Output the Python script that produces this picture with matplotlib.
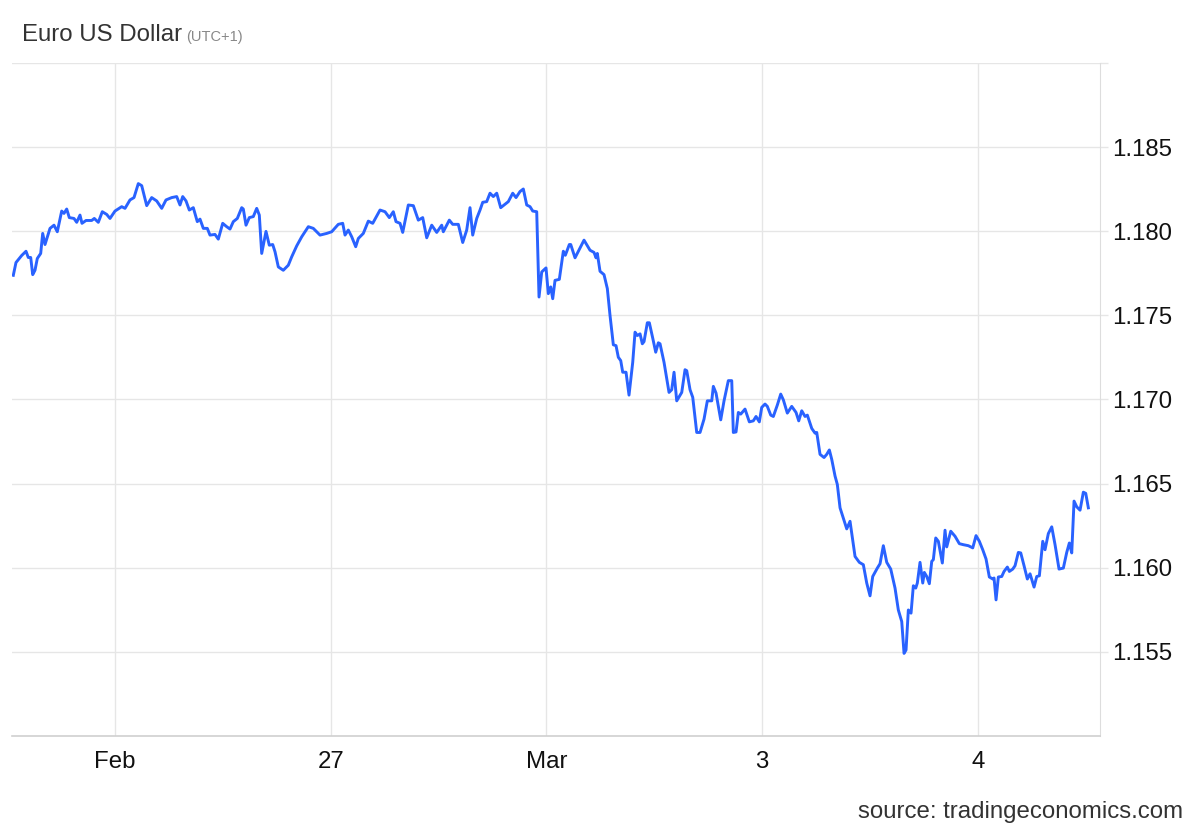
import matplotlib
matplotlib.use("Agg")
import matplotlib.pyplot as plt
import numpy as np

plt.rcParams['font.family'] = ['Liberation Sans', 'DejaVu Sans']

# --- Data (x in trading days, 0 = "Feb" tick) ---
DAYS = [
    -0.4715, -0.4590, -0.4325, -0.4126, -0.4020, -0.3908, -0.3815, -0.3709, -0.3602, -0.3445,
    -0.3352, -0.3245, -0.3013, -0.2828, -0.2675, -0.2471, -0.2364, -0.2239, -0.2119, -0.1901,
    -0.1776, -0.1623, -0.1530, -0.1344, -0.1080, -0.0960, -0.0774, -0.0589, -0.0385, -0.0232,
    0.0000, 0.0311, 0.0464, 0.0695, 0.0881, 0.1080, 0.1238, 0.1470, 0.1701, 0.1933,
    0.2165, 0.2364, 0.2629, 0.2860, 0.3013, 0.3139, 0.3292, 0.3445, 0.3630, 0.3815,
    0.3941, 0.4094, 0.4279, 0.4404, 0.4636, 0.4789, 0.4993, 0.5178, 0.5331, 0.5485,
    0.5670, 0.5874, 0.5948, 0.6073, 0.6226, 0.6412, 0.6569, 0.6690, 0.6801, 0.7000,
    0.7153, 0.7311, 0.7418, 0.7571, 0.7802, 0.8034, 0.8192, 0.8424, 0.8656, 0.8962,
    0.9193, 0.9504, 0.9815, 1.0046, 1.0352, 1.0556, 1.0663, 1.0816, 1.0974, 1.1159,
    1.1280, 1.1511, 1.1743, 1.1947, 1.2286, 1.2517, 1.2717, 1.2902, 1.3027, 1.3213,
    1.3338, 1.3598, 1.3830, 1.4061, 1.4265, 1.4451, 1.4683, 1.4914, 1.5146, 1.5220,
    1.5498, 1.5656, 1.5916, 1.6120, 1.6305, 1.6458, 1.6583, 1.6769, 1.6922, 1.7047,
    1.7232, 1.7385, 1.7538, 1.7696, 1.7881, 1.8234, 1.8438, 1.8591, 1.8776, 1.8929,
    1.9087, 1.9240, 1.9365, 1.9550, 1.9657, 1.9782, 1.9981, 2.0088, 2.0199, 2.0292,
    2.0399, 2.0598, 2.0784, 2.0876, 2.1062, 2.1127, 2.1326, 2.1743, 2.2022, 2.2207,
    2.2300, 2.2360, 2.2485, 2.2670, 2.2824, 2.2949, 2.3102, 2.3227, 2.3333, 2.3445,
    2.3537, 2.3690, 2.3829, 2.4001, 2.4108, 2.4214, 2.4340, 2.4446, 2.4525, 2.4678,
    2.4771, 2.4928, 2.5067, 2.5188, 2.5267, 2.5452, 2.5684, 2.5809, 2.5916, 2.6041,
    2.6273, 2.6426, 2.6505, 2.6658, 2.6783, 2.6968, 2.7121, 2.7306, 2.7460, 2.7664,
    2.7738, 2.7863, 2.8081, 2.8234, 2.8433, 2.8591, 2.8665, 2.8790, 2.8897, 2.9008,
    2.9207, 2.9407, 2.9592, 2.9717, 2.9870, 2.9981, 3.0134, 3.0241, 3.0399, 3.0519,
    3.0705, 3.0862, 3.0983, 3.1168, 3.1372, 3.1572, 3.1697, 3.1836, 3.1989, 3.2096,
    3.2300, 3.2453, 3.2532, 3.2684, 3.2870, 3.2995, 3.3116, 3.3227, 3.3380, 3.3486,
    3.3612, 3.3737, 3.3922, 3.4075, 3.4200, 3.4307, 3.4506, 3.4692, 3.4849, 3.5002,
    3.5127, 3.5341, 3.5466, 3.5619, 3.5777, 3.5962, 3.6161, 3.6314, 3.6472, 3.6579,
    3.6671, 3.6778, 3.6903, 3.7010, 3.7121, 3.7195, 3.7320, 3.7446, 3.7520, 3.7631,
    3.7752, 3.7863, 3.7937, 3.8048, 3.8169, 3.8354, 3.8479, 3.8558, 3.8744, 3.8943,
    3.9142, 3.9328, 3.9560, 3.9764, 3.9917, 4.0070, 4.0227, 4.0380, 4.0533, 4.0691,
    4.0751, 4.0844, 4.0951, 4.1108, 4.1215, 4.1368, 4.1461, 4.1618, 4.1725, 4.1878,
    4.1989, 4.2142, 4.2295, 4.2420, 4.2606, 4.2731, 4.2852, 4.3009, 4.3115, 4.3268,
    4.3426, 4.3579, 4.3764, 4.3964, 4.4121, 4.4242, 4.4353, 4.4460, 4.4585, 4.4738,
    4.4891, 4.5002, 4.5123,
]
PRICE = [
    1.17738, 1.17814, 1.17856, 1.17881, 1.17844, 1.17844, 1.17742, 1.17768, 1.17838, 1.17868,
    1.17987, 1.17921, 1.18017, 1.18036, 1.17997, 1.18120, 1.18106, 1.18132, 1.18081, 1.18076,
    1.18053, 1.18096, 1.18047, 1.18064, 1.18064, 1.18076, 1.18053, 1.18116, 1.18100, 1.18076,
    1.18120, 1.18146, 1.18136, 1.18186, 1.18200, 1.18283, 1.18271, 1.18152, 1.18200, 1.18180,
    1.18136, 1.18186, 1.18200, 1.18206, 1.18156, 1.18206, 1.18180, 1.18126, 1.18140, 1.18057,
    1.18072, 1.18017, 1.18017, 1.17977, 1.17981, 1.17953, 1.18047, 1.18027, 1.18013, 1.18057,
    1.18076, 1.18140, 1.18132, 1.18036, 1.18081, 1.18087, 1.18136, 1.18096, 1.17868, 1.17999,
    1.17917, 1.17921, 1.17878, 1.17788, 1.17768, 1.17798, 1.17848, 1.17913, 1.17967, 1.18027,
    1.18017, 1.17977, 1.17987, 1.17997, 1.18041, 1.18047, 1.17977, 1.18007, 1.17967, 1.17908,
    1.17957, 1.17987, 1.18060, 1.18047, 1.18126, 1.18116, 1.18081, 1.18116, 1.18057, 1.18047,
    1.17993, 1.18156, 1.18152, 1.18066, 1.18081, 1.17961, 1.18036, 1.17993, 1.18036, 1.17997,
    1.18066, 1.18041, 1.18041, 1.17933, 1.18007, 1.18140, 1.17977, 1.18076, 1.18126, 1.18172,
    1.18176, 1.18226, 1.18206, 1.18226, 1.18140, 1.18176, 1.18226, 1.18200, 1.18236, 1.18251,
    1.18156, 1.18146, 1.18120, 1.18116, 1.17609, 1.17758, 1.17782, 1.17629, 1.17669, 1.17599,
    1.17708, 1.17714, 1.17881, 1.17857, 1.17921, 1.17921, 1.17842, 1.17947, 1.17887, 1.17874,
    1.17842, 1.17868, 1.17762, 1.17742, 1.17659, 1.17499, 1.17325, 1.17320, 1.17251, 1.17231,
    1.17162, 1.17162, 1.17026, 1.17221, 1.17400, 1.17380, 1.17390, 1.17331, 1.17344, 1.17456,
    1.17456, 1.17365, 1.17281, 1.17337, 1.17331, 1.17221, 1.17042, 1.17058, 1.17162, 1.16992,
    1.17042, 1.17177, 1.17171, 1.17058, 1.17013, 1.16804, 1.16804, 1.16883, 1.16992, 1.16992,
    1.17078, 1.17038, 1.16879, 1.16992, 1.17112, 1.17112, 1.16804, 1.16807, 1.16923, 1.16913,
    1.16943, 1.16867, 1.16873, 1.16899, 1.16867, 1.16953, 1.16973, 1.16959, 1.16907, 1.16899,
    1.16967, 1.17032, 1.16998, 1.16919, 1.16959, 1.16923, 1.16873, 1.16933, 1.16899, 1.16907,
    1.16828, 1.16800, 1.16804, 1.16674, 1.16655, 1.16674, 1.16700, 1.16644, 1.16545, 1.16495,
    1.16356, 1.16306, 1.16231, 1.16276, 1.16163, 1.16067, 1.16032, 1.16018, 1.15909, 1.15833,
    1.15948, 1.15998, 1.16024, 1.16131, 1.16032, 1.15992, 1.15879, 1.15749, 1.15680, 1.15491,
    1.15511, 1.15749, 1.15730, 1.15893, 1.15879, 1.15909, 1.16032, 1.15909, 1.15972, 1.15948,
    1.15905, 1.16038, 1.16048, 1.16177, 1.16157, 1.16028, 1.16223, 1.16124, 1.16217, 1.16187,
    1.16143, 1.16137, 1.16131, 1.16118, 1.16191, 1.16157, 1.16107, 1.16052, 1.15945, 1.15933,
    1.15939, 1.15809, 1.15945, 1.15948, 1.15978, 1.16004, 1.15978, 1.15992, 1.16012, 1.16091,
    1.16088, 1.16012, 1.15933, 1.15964, 1.15885, 1.15948, 1.15952, 1.16157, 1.16107, 1.16203,
    1.16243, 1.16137, 1.15992, 1.15998, 1.16091, 1.16147, 1.16088, 1.16396, 1.16362, 1.16342,
    1.16449, 1.16442, 1.16356,
]

X_TICKS = [0, 1, 2, 3, 4]
X_LABELS = ["Feb", "27", "Mar", "3", "4"]
Y_TICKS = [1.155, 1.160, 1.165, 1.170, 1.175, 1.180, 1.185]

LINE_COLOR = "#2962ff"
GRID_COLOR = "#e6e6e6"
TEXT_COLOR = "#333333"

fig = plt.figure(figsize=(12, 8.32), dpi=100)
ax = fig.add_axes([0.01, 0.1154, 0.9067, 0.8089])

ax.plot(DAYS, PRICE, color=LINE_COLOR, linewidth=2.1, solid_joinstyle='round')

ax.set_xlim(-0.4775, 4.5665)
ax.set_ylim(1.150, 1.190)

ax.set_xticks(X_TICKS)
ax.set_xticklabels(X_LABELS)
ax.set_yticks(Y_TICKS + [1.190])
ax.set_yticklabels([f"{v:.3f}" for v in Y_TICKS] + [""])

ax.yaxis.tick_right()
ax.tick_params(axis='both', labelsize=17.3, labelcolor='#111111')
ax.tick_params(axis='y', length=6, width=1, color=GRID_COLOR, pad=3)
ax.tick_params(axis='x', length=0, pad=11)

ax.grid(True, color=GRID_COLOR, linewidth=1.0)
ax.set_axisbelow(True)

for side in ['top', 'left']:
    ax.spines[side].set_visible(False)
ax.spines['right'].set_color('#dddddd')
ax.spines['bottom'].set_color('#d0d0d0')
ax.spines['bottom'].set_linewidth(1.2)

fig.text(0.0183, 0.9507, "Euro US Dollar", fontsize=17.3, color=TEXT_COLOR, va='baseline')
fig.text(0.155, 0.9507, "(UTC+1)", fontsize=10.5, color='#888888', va='baseline')
fig.text(0.986, 0.0165, "source: tradingeconomics.com", fontsize=17.3,
         color=TEXT_COLOR, ha='right', va='baseline')

fig.savefig("out.png", dpi=100, facecolor='white')
